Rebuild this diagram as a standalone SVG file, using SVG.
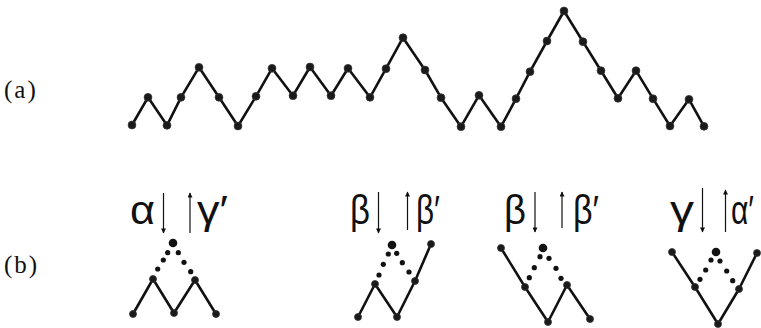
<svg xmlns="http://www.w3.org/2000/svg" width="761" height="328" viewBox="0 0 761 328">
<style>
.ln{fill:none;stroke:#111;stroke-width:2.6;stroke-linejoin:round;stroke-linecap:round}
.ar{fill:none;stroke:#111;stroke-width:1.2}
.v{fill:#1a1a1a;stroke:#333;stroke-width:0.8}
.ap{fill:#111}
.sm{fill:#111}
.lab{font-family:"Liberation Serif","Times New Roman",serif;font-size:25px;fill:#111;letter-spacing:2px}
.gk{font-family:"Liberation Sans",Arial,"DejaVu Sans",sans-serif;font-size:40px;fill:#111}
</style>
<defs>
<marker id="ah" viewBox="0 0 10 10" refX="9" refY="5" markerWidth="6" markerHeight="5" markerUnits="userSpaceOnUse" orient="auto">
<path d="M0,0 L10,5 L0,10 Z" fill="#111"/>
</marker>
</defs>
<text class="lab" x="4" y="98">(a)</text>
<text class="lab" x="4" y="273">(b)</text>
<g id="connectors">
<polyline class="ln" points="132,125 148,97.3 167,125.3 181,97.3 199,67.3 219,97.3 238,126 256,96.3 272,68.3 293,95.7 310,67 331,95.7 348,68.3 370,97.3 386,68.7 403,37.7 425,70 441,97.7 461,126.7 479,95.3 501,126.7 516,98.7 530,71.7 547,41 564,11 583,41.7 601,70.7 618,98.3 636,70.7 653,98.7 670,126 689,99.3 704,126.3"/>
<polyline class="ln" points="133,314 153,279 174,313 195,280 216,314"/>
<polyline class="ln" points="358,317 375,284 397,317 415,281 431,244"/>
<polyline class="ln" points="501,248 525,287 548,322 567,285 590,319"/>
<polyline class="ln" points="672,252 695,287 718,324 739,289 757,253"/>
<line class="ar" x1="163.5" y1="193" x2="163.5" y2="233" marker-end="url(#ah)"/>
<line class="ar" x1="190" y1="233" x2="190" y2="193" marker-end="url(#ah)"/>
<line class="ar" x1="378.5" y1="192" x2="378.5" y2="233" marker-end="url(#ah)"/>
<line class="ar" x1="407.5" y1="230" x2="407.5" y2="192" marker-end="url(#ah)"/>
<line class="ar" x1="535" y1="192" x2="535" y2="232" marker-end="url(#ah)"/>
<line class="ar" x1="562" y1="228" x2="562" y2="192" marker-end="url(#ah)"/>
<line class="ar" x1="702.5" y1="188" x2="702.5" y2="232" marker-end="url(#ah)"/>
<line class="ar" x1="725.5" y1="232" x2="725.5" y2="190" marker-end="url(#ah)"/>
</g>
<g id="path-a">
<circle class="v" cx="132" cy="125" r="3.9"/><circle class="v" cx="148" cy="97.3" r="3.9"/><circle class="v" cx="167" cy="125.3" r="3.9"/><circle class="v" cx="181" cy="97.3" r="3.9"/><circle class="v" cx="199" cy="67.3" r="3.9"/><circle class="v" cx="219" cy="97.3" r="3.9"/><circle class="v" cx="238" cy="126" r="3.9"/><circle class="v" cx="256" cy="96.3" r="3.9"/><circle class="v" cx="272" cy="68.3" r="3.9"/><circle class="v" cx="293" cy="95.7" r="3.9"/><circle class="v" cx="310" cy="67" r="3.9"/><circle class="v" cx="331" cy="95.7" r="3.9"/><circle class="v" cx="348" cy="68.3" r="3.9"/><circle class="v" cx="370" cy="97.3" r="3.9"/><circle class="v" cx="386" cy="68.7" r="3.9"/><circle class="v" cx="403" cy="37.7" r="3.9"/><circle class="v" cx="425" cy="70" r="3.9"/><circle class="v" cx="441" cy="97.7" r="3.9"/><circle class="v" cx="461" cy="126.7" r="3.9"/><circle class="v" cx="479" cy="95.3" r="3.9"/><circle class="v" cx="501" cy="126.7" r="3.9"/><circle class="v" cx="516" cy="98.7" r="3.9"/><circle class="v" cx="530" cy="71.7" r="3.9"/><circle class="v" cx="547" cy="41" r="3.9"/><circle class="v" cx="564" cy="11" r="3.9"/><circle class="v" cx="583" cy="41.7" r="3.9"/><circle class="v" cx="601" cy="70.7" r="3.9"/><circle class="v" cx="618" cy="98.3" r="3.9"/><circle class="v" cx="636" cy="70.7" r="3.9"/><circle class="v" cx="653" cy="98.7" r="3.9"/><circle class="v" cx="670" cy="126" r="3.9"/><circle class="v" cx="689" cy="99.3" r="3.9"/><circle class="v" cx="704" cy="126.3" r="3.9"/>
</g>
<g id="pattern-1">
<text class="gk" x="130" y="224" textLength="25" lengthAdjust="spacingAndGlyphs">α</text>
<text class="gk" x="197" y="224" textLength="31" lengthAdjust="spacingAndGlyphs">γ′</text>
<circle class="v" cx="133" cy="314" r="3.5"/><circle class="v" cx="153" cy="279" r="3.5"/><circle class="v" cx="174" cy="313" r="3.5"/><circle class="v" cx="195" cy="280" r="3.5"/><circle class="v" cx="216" cy="314" r="3.5"/>
<circle class="ap" cx="173" cy="243" r="4.3"/>
<circle class="sm" cx="167.7" cy="252.7" r="2.6"/><circle class="sm" cx="163.3" cy="260" r="2.6"/><circle class="sm" cx="157.7" cy="269" r="2.6"/><circle class="sm" cx="178.3" cy="252.7" r="2.6"/><circle class="sm" cx="184" cy="262.3" r="2.6"/><circle class="sm" cx="190.7" cy="271.7" r="2.6"/>
</g>
<g id="pattern-2">
<text class="gk" x="350" y="224" textLength="20" lengthAdjust="spacingAndGlyphs">β</text>
<text class="gk" x="416" y="224" textLength="24" lengthAdjust="spacingAndGlyphs">β′</text>
<circle class="v" cx="358" cy="317" r="3.5"/><circle class="v" cx="375" cy="284" r="3.5"/><circle class="v" cx="397" cy="317" r="3.5"/><circle class="v" cx="415" cy="281" r="3.5"/><circle class="v" cx="431" cy="244" r="3.5"/>
<circle class="ap" cx="392" cy="245" r="4.3"/>
<circle class="sm" cx="388.3" cy="254" r="2.6"/><circle class="sm" cx="383.3" cy="264.3" r="2.6"/><circle class="sm" cx="379" cy="275" r="2.6"/><circle class="sm" cx="396.7" cy="253.3" r="2.6"/><circle class="sm" cx="402.3" cy="262.7" r="2.6"/><circle class="sm" cx="409" cy="272" r="2.6"/>
</g>
<g id="pattern-3">
<text class="gk" x="504" y="224" textLength="22" lengthAdjust="spacingAndGlyphs">β</text>
<text class="gk" x="573" y="224" textLength="26" lengthAdjust="spacingAndGlyphs">β′</text>
<circle class="v" cx="501" cy="248" r="3.5"/><circle class="v" cx="525" cy="287" r="3.5"/><circle class="v" cx="548" cy="322" r="3.5"/><circle class="v" cx="567" cy="285" r="3.5"/><circle class="v" cx="590" cy="319" r="3.5"/>
<circle class="ap" cx="543" cy="248" r="4.3"/>
<circle class="sm" cx="540" cy="256.7" r="2.6"/><circle class="sm" cx="534.3" cy="267.7" r="2.6"/><circle class="sm" cx="529.3" cy="277.7" r="2.6"/><circle class="sm" cx="549" cy="258.3" r="2.6"/><circle class="sm" cx="556" cy="268.3" r="2.6"/><circle class="sm" cx="561" cy="278.3" r="2.6"/>
</g>
<g id="pattern-4">
<text class="gk" x="670" y="224" textLength="24" lengthAdjust="spacingAndGlyphs">γ</text>
<text class="gk" x="731" y="224" textLength="23" lengthAdjust="spacingAndGlyphs">α′</text>
<circle class="v" cx="672" cy="252" r="3.5"/><circle class="v" cx="695" cy="287" r="3.5"/><circle class="v" cx="718" cy="324" r="3.5"/><circle class="v" cx="739" cy="289" r="3.5"/><circle class="v" cx="757" cy="253" r="3.5"/>
<circle class="ap" cx="716" cy="252" r="4.3"/>
<circle class="sm" cx="711" cy="260" r="2.6"/><circle class="sm" cx="705.7" cy="270" r="2.6"/><circle class="sm" cx="700" cy="279.3" r="2.6"/><circle class="sm" cx="720" cy="261" r="2.6"/><circle class="sm" cx="726.7" cy="271" r="2.6"/><circle class="sm" cx="732.7" cy="280.7" r="2.6"/>
</g>
</svg>
